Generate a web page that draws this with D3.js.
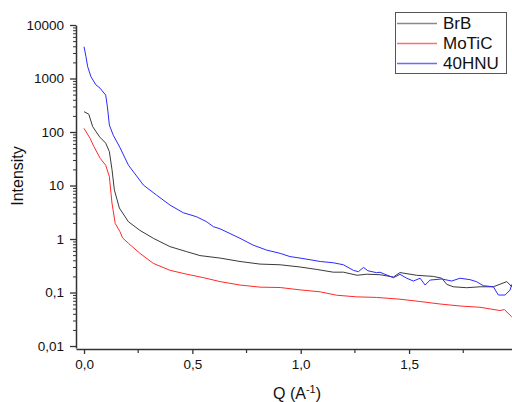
<!DOCTYPE html>
<html><head><meta charset="utf-8">
<script src="https://cdn.jsdelivr.net/npm/d3@7"></script>
<style>body{margin:0;background:#fff}svg{display:block;font-family:"Liberation Sans",Arial,sans-serif}</style>
</head><body><svg id="c" width="512" height="402"></svg>
<script>
const seriesNames = ["BrB", "MoTiC", "40HNU"];
const seriesColors = ["#3a3a3a", "#ff2a2a", "#2a2aff"];
const legendColors = ["#8a8a8a", "#ff7070", "#6a6aff"];

const qBrB = [0, 0.022, 0.04, 0.072, 0.10, 0.117, 0.129, 0.14, 0.163, 0.205, 0.258, 0.32, 0.397, 0.474, 0.535, 0.628, 0.72, 0.812, 0.905, 0.997, 1.074, 1.15, 1.197, 1.26, 1.305, 1.366, 1.428, 1.458, 1.535, 1.612, 1.651, 1.674, 1.704, 1.766, 1.828, 1.889, 1.951, 1.974];
const vBrB = [240, 215, 126, 81, 62, 43, 20, 8.3, 3.8, 2.1, 1.45, 1.03, 0.72, 0.58, 0.49, 0.44, 0.38, 0.34, 0.33, 0.30, 0.27, 0.24, 0.24, 0.21, 0.22, 0.215, 0.195, 0.236, 0.21, 0.2, 0.185, 0.142, 0.128, 0.123, 0.128, 0.128, 0.16, 0.128];

const qMoTiC = [0, 0.028, 0.045, 0.075, 0.10, 0.117, 0.129, 0.144, 0.166, 0.178, 0.205, 0.258, 0.32, 0.397, 0.474, 0.55, 0.628, 0.72, 0.812, 0.905, 0.997, 1.09, 1.166, 1.258, 1.35, 1.458, 1.55, 1.643, 1.735, 1.827, 1.92, 1.94, 1.974];
const vMoTiC = [117, 76, 54, 32, 24, 14.6, 4.7, 1.95, 1.37, 1.05, 0.83, 0.54, 0.35, 0.26, 0.22, 0.19, 0.16, 0.138, 0.126, 0.124, 0.112, 0.103, 0.089, 0.083, 0.081, 0.075, 0.068, 0.061, 0.056, 0.053, 0.046, 0.048, 0.035];

const q40HNU = [0, 0.009, 0.017, 0.032, 0.055, 0.074, 0.10, 0.108, 0.117, 0.135, 0.165, 0.205, 0.274, 0.335, 0.397, 0.458, 0.52, 0.566, 0.597, 0.628, 0.72, 0.78, 0.843, 0.905, 0.95, 0.997, 1.043, 1.09, 1.15, 1.197, 1.243, 1.266, 1.29, 1.31, 1.35, 1.366, 1.428, 1.458, 1.489, 1.52, 1.551, 1.574, 1.597, 1.651, 1.697, 1.735, 1.781, 1.812, 1.843, 1.889, 1.912, 1.943, 1.966, 1.974];
const v40HNU = [3930, 2570, 1660, 1080, 760, 660, 490, 295, 135, 87, 52, 24, 10.2, 6.6, 4.3, 3.1, 2.6, 2.1, 1.7, 1.55, 1.03, 0.77, 0.62, 0.54, 0.47, 0.44, 0.41, 0.38, 0.36, 0.33, 0.26, 0.245, 0.295, 0.255, 0.235, 0.239, 0.189, 0.219, 0.185, 0.164, 0.185, 0.138, 0.171, 0.179, 0.164, 0.185, 0.174, 0.159, 0.134, 0.128, 0.0898, 0.0898, 0.111, 0.142];

const xTicks = [0, 0.5, 1.0, 1.5];
const xTickLabels = ["0,0", "0,5", "1,0", "1,5"];
const xMinor = [0.25, 0.75, 1.25, 1.75];
const yTicks = [0.01, 0.1, 1, 10, 100, 1000, 10000];
const yTickLabels = ["0,01", "0,1", "1", "10", "100", "1000", "10000"];

const qs = [qBrB, qMoTiC, q40HNU];
const vs = [vBrB, vMoTiC, v40HNU];

const svg = d3.select("#c");
const L = 76, R = 512, T = 25, B = 348;
const x = d3.scaleLinear().domain([-0.037, 1.975]).range([L, R]);
const y = d3.scaleLog().domain([Math.pow(10, -2.037), 10000]).range([B, T]);

const axisColor = "#333";
const yMinor = [];
for (let e = -3; e < 4; e++) for (let m = 2; m <= 9; m++) {
  const v = m * Math.pow(10, e);
  if (v >= y.domain()[0] && v <= 10000) yMinor.push(v);
}
svg.append("g").selectAll("line").data(yMinor).join("line")
  .attr("x1", L - 3).attr("x2", L).attr("y1", d => y(d) + 0.5).attr("y2", d => y(d) + 0.5)
  .attr("stroke", axisColor).attr("stroke-width", 1);

const yAxis = d3.axisLeft(y).tickValues(yTicks).tickFormat((d, i) => yTickLabels[i]).tickSize(6).tickSizeOuter(0).tickPadding(6);
const gy = svg.append("g").attr("transform", `translate(${L},0)`).call(yAxis);
gy.select(".domain").attr("stroke", axisColor).attr("stroke-width", 1.5);
gy.selectAll(".tick line").attr("stroke", axisColor).attr("stroke-width", 1.3);
gy.selectAll(".tick text").attr("font-size", 13.5).attr("fill", "#111").attr("font-family", "Liberation Sans, Arial, sans-serif");

const xAxis = d3.axisBottom(x).tickValues(xTicks).tickFormat((d, i) => xTickLabels[i]).tickSize(5).tickSizeOuter(0).tickPadding(5);
const gx = svg.append("g").attr("transform", `translate(0,${B + 1})`).call(xAxis);
gx.select(".domain").attr("stroke", axisColor).attr("stroke-width", 1.5);
gx.selectAll(".tick line").attr("stroke", axisColor).attr("stroke-width", 1.3);
gx.selectAll(".tick text").attr("font-size", 13.5).attr("fill", "#111").attr("font-family", "Liberation Sans, Arial, sans-serif");
svg.append("g").selectAll("line").data(xMinor).join("line")
  .attr("x1", d => x(d)).attr("x2", d => x(d)).attr("y1", B + 1).attr("y2", B + 5)
  .attr("stroke", axisColor).attr("stroke-width", 1.2);

const line = d3.line().x(d => x(d[0])).y(d => y(d[1]));
seriesNames.forEach((n, i) => {
  const pts = qs[i].map((q, j) => [q, vs[i][j]]);
  svg.append("path").datum(pts).attr("d", line).attr("fill", "none")
    .attr("stroke", seriesColors[i]).attr("stroke-width", 1).attr("stroke-linejoin", "round");
});

svg.append("text").attr("transform", "translate(23,176) rotate(-90)").attr("text-anchor", "middle")
  .attr("font-size", 16).attr("fill", "#111").text("Intensity");
const xt = svg.append("text").attr("x", 297).attr("y", 399).attr("text-anchor", "middle")
  .attr("font-size", 16).attr("fill", "#111");
xt.append("tspan").text("Q (A");
xt.append("tspan").attr("font-size", 11).attr("dy", -6).text("-1");
xt.append("tspan").attr("dy", 6).text(")");

const lg = svg.append("g");
lg.append("rect").attr("x", 395.5).attr("y", 12.5).attr("width", 111).attr("height", 61)
  .attr("fill", "#fff").attr("stroke", "#555").attr("stroke-width", 1);
seriesNames.forEach((n, i) => {
  const cy = 23 + i * 20;
  lg.append("line").attr("x1", 397).attr("x2", 437).attr("y1", cy + 0.5).attr("y2", cy + 0.5)
    .attr("stroke", legendColors[i]).attr("stroke-width", 1.6);
  lg.append("text").attr("x", 443).attr("y", cy + 6).attr("font-size", 17).attr("fill", "#111").text(n);
});
</script></body></html>
